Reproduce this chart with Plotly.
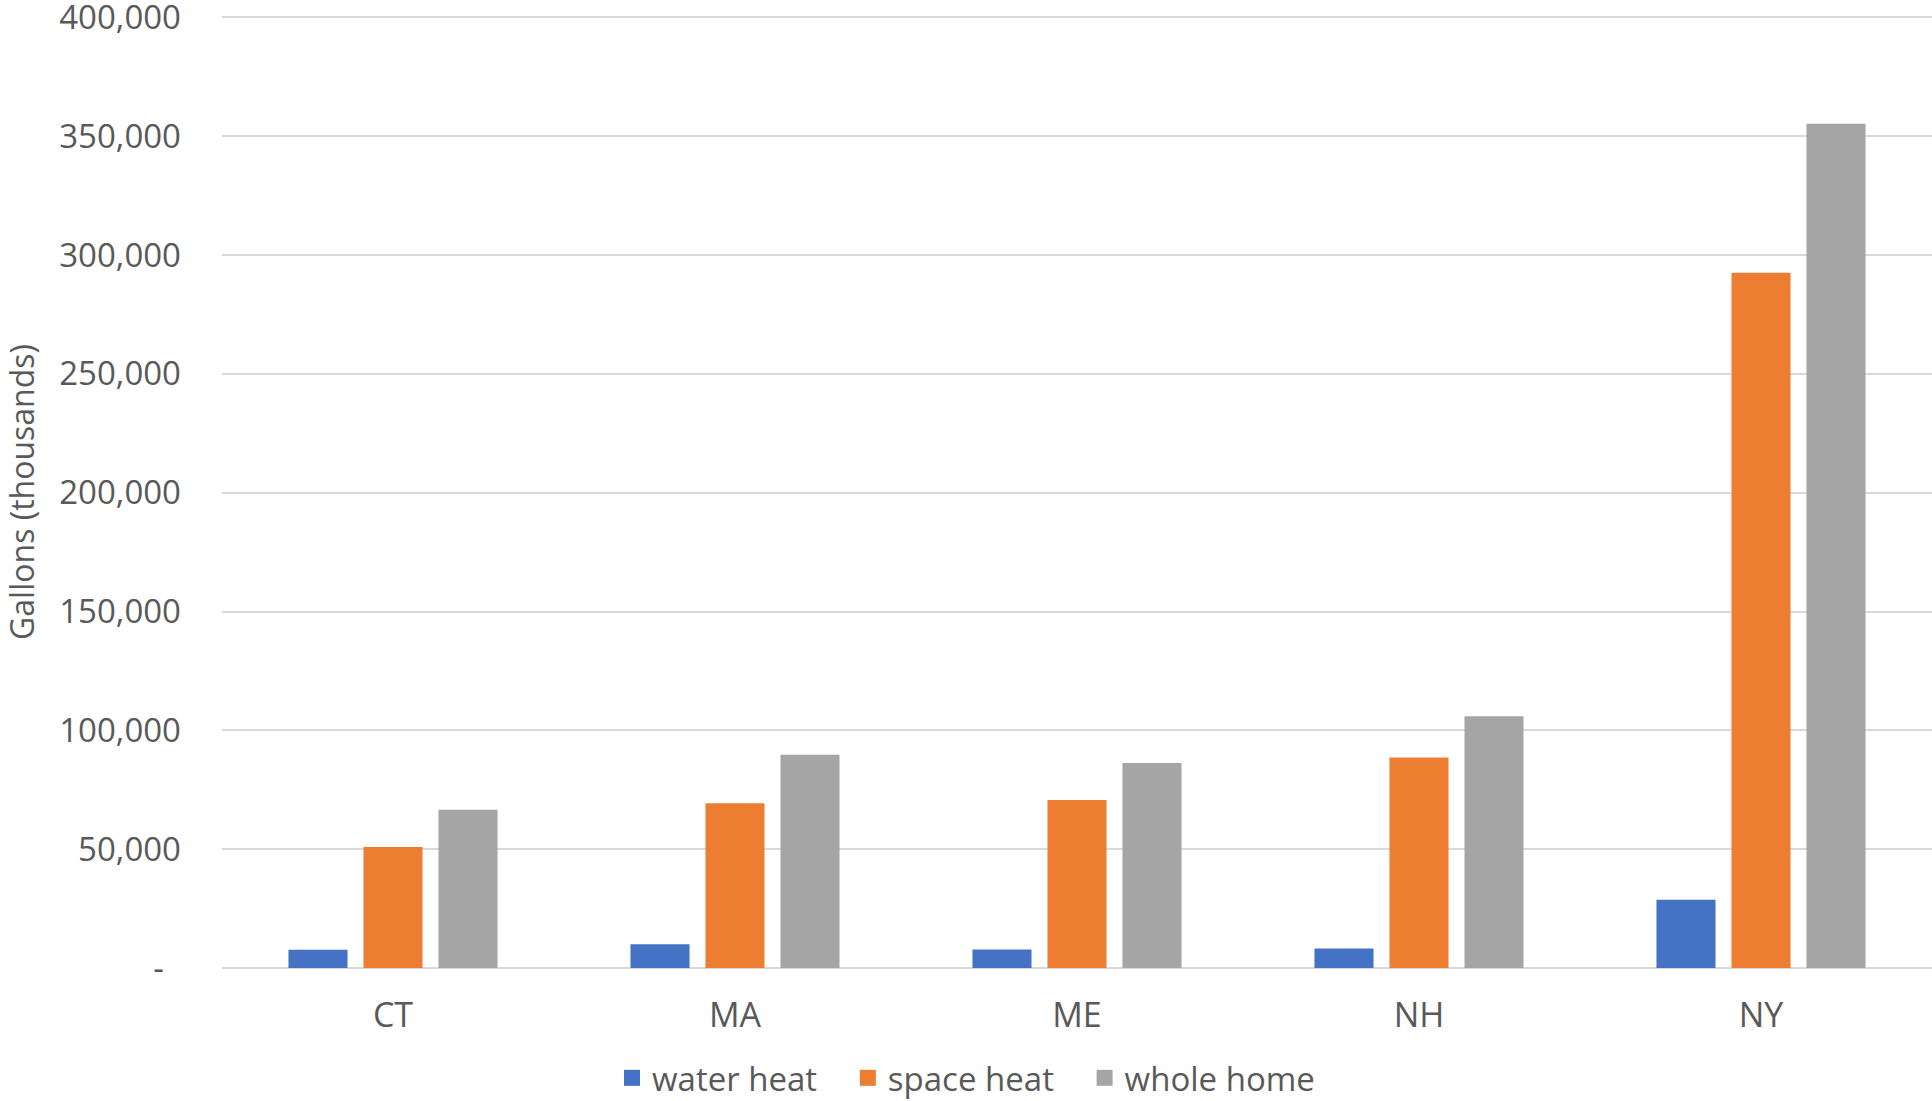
import plotly.graph_objects as go

states = ["CT", "MA", "ME", "NH", "NY"]
water_heat = [7700, 10000, 7800, 8200, 28700]
space_heat = [50900, 69300, 70700, 88600, 292600]
whole_home = [66600, 89700, 86300, 105900, 355300]

series_names = ["water heat", "space heat", "whole home"]
series_colors = ["#4472C4", "#ED7D31", "#A5A5A5"]

y_tickvals = [0, 50000, 100000, 150000, 200000, 250000, 300000, 350000, 400000]
y_ticktext = ["-\u00a0\u00a0", "50,000", "100,000", "150,000", "200,000",
              "250,000", "300,000", "350,000", "400,000"]

TEXT = "#595959"
FONT = "Open Sans"
PAD = "\u00a0\u00a0\u00a0"

fig = go.Figure()
for name, vals, col in zip(series_names, [water_heat, space_heat, whole_home], series_colors):
    fig.add_trace(go.Bar(x=states, y=vals, name=name, marker_color=col,
                         marker_line_width=0, showlegend=False))
# legend entries with larger square swatches
for i, (name, col) in enumerate(zip(series_names, series_colors)):
    label = name + (PAD if i < len(series_names) - 1 else "")
    fig.add_trace(go.Scatter(x=[None], y=[None], mode="markers", name=label,
                             marker=dict(symbol="square", size=20, color=col),
                             showlegend=True))

fig.update_layout(
    width=1932, height=1101,
    margin=dict(l=222, r=0, t=16, b=133, autoexpand=False),
    paper_bgcolor="white", plot_bgcolor="white",
    barmode="group", bargap=0.342, bargroupgap=0.213,
    font=dict(family=FONT, color=TEXT),
    legend=dict(orientation="h", xref="container", x=0.5, xanchor="center",
                yref="container", y=0.021, yanchor="middle",
                font=dict(size=33, color=TEXT, family=FONT),
                itemwidth=30, itemsizing="trace", traceorder="normal"),
)
fig.update_yaxes(range=[0, 400600], tickvals=y_tickvals, ticktext=y_ticktext,
                 automargin=False,
                 showgrid=True, gridcolor="#D9D9D9", gridwidth=2,
                 zeroline=True, zerolinecolor="#D9D9D9", zerolinewidth=2,
                 showline=False, ticks="", ticklabelstandoff=40,
                 ticklabeloverflow="allow",
                 tickfont=dict(size=33, color=TEXT, family=FONT),
                 title=dict(text="Gallons (thousands)", standoff=26,
                            font=dict(size=32, color=TEXT, family=FONT)))
fig.update_xaxes(showgrid=False, showline=False, ticks="", automargin=False,
                 ticklabelstandoff=24,
                 tickfont=dict(size=34, color=TEXT, family=FONT))

fig.write_html("out.html")
